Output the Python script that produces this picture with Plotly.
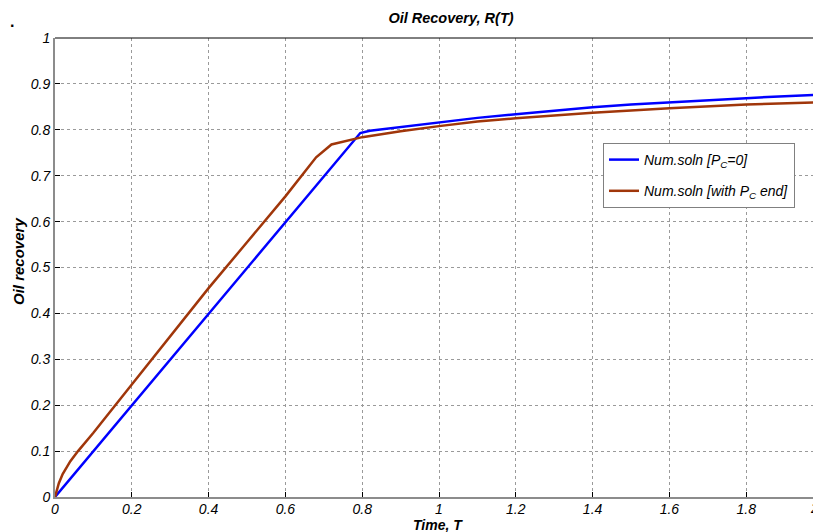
import plotly.graph_objects as go

# values
t_blue = [0, 0.795, 0.82, 0.9, 1.0, 1.1, 1.2, 1.3, 1.4, 1.5, 1.6, 1.7, 1.8, 1.9, 2.0]
r_blue = [0, 0.793, 0.798, 0.806, 0.815, 0.826, 0.834, 0.842, 0.849, 0.855, 0.860, 0.865, 0.869, 0.873, 0.877]

t_brown = [0, 0.01, 0.02, 0.04, 0.06, 0.1, 0.2, 0.3, 0.4, 0.5, 0.6, 0.68, 0.72, 0.8, 0.9, 1.0,
           1.1, 1.2, 1.4, 1.6, 1.8, 2.0]
r_brown = [0, 0.03, 0.05, 0.078, 0.10, 0.14, 0.245, 0.35, 0.455, 0.555, 0.655, 0.74, 0.768, 0.784,
           0.797, 0.808, 0.818, 0.825, 0.837, 0.847, 0.855, 0.860]

x_ticks = [0, 0.2, 0.4, 0.6, 0.8, 1, 1.2, 1.4, 1.6, 1.8, 2]
y_ticks = [0, 0.1, 0.2, 0.3, 0.4, 0.5, 0.6, 0.7, 0.8, 0.9, 1]

FONT = "Liberation Sans, Arial, sans-serif"

fig = go.Figure()
fig.add_trace(go.Scatter(x=t_blue, y=r_blue, mode="lines", name="Num.soln [P<sub>C</sub>=0]",
                         legendgroup="a", line=dict(color="#0000FF", width=2.5)))
fig.add_trace(go.Scatter(x=t_brown, y=r_brown, mode="lines", name="Num.soln [with P<sub>C</sub> end]",
                         legendgroup="b", line=dict(color="#A0360A", width=2.5)))

axis_common = dict(showgrid=True, gridcolor="#9a9a9a", griddash="dot", gridwidth=1,
                   zeroline=False, showline=True, linecolor="#8c8c8c", linewidth=2,
                   ticks="inside", ticklen=5, tickcolor="#000", tickwidth=1, automargin=False,
                   tickfont=dict(family=FONT, size=14, color="#000", style="italic"))

# page body has an 8px margin, so the figure is 813x524 and sits at (8, 8)
fig.update_xaxes(range=[0, (821 - 55) / 384], tickvals=x_ticks, ticklabelstandoff=-2, **axis_common)
fig.update_yaxes(range=[0, 1], tickvals=y_ticks, **axis_common)

fig.update_layout(
    width=813, height=524,
    margin=dict(l=47, r=0, t=30, b=35, autoexpand=False),
    paper_bgcolor="white", plot_bgcolor="white",
    title=dict(text="Oil Recovery, R(T)", x=(451 - 55) / 766, xref="paper", xanchor="center",
               y=1 - 10 / 524, yanchor="middle",
               font=dict(family=FONT, size=14.5, color="#000", weight="bold", style="italic")),
    legend=dict(x=(603 - 55) / 766, y=(497 - 143) / 459, xanchor="left", yanchor="top",
                bgcolor="white", bordercolor="#808080", borderwidth=1,
                font=dict(family=FONT, size=14, color="#000", style="italic"),
                traceorder="grouped", tracegroupgap=10, itemwidth=30),
    showlegend=True,
    shapes=[dict(type="line", xref="paper", yref="paper", x0=0, x1=1, y0=1, y1=1,
                 line=dict(color="#000", width=1))],
    annotations=[
        dict(text="Oil recovery", textangle=-90, xref="paper", yref="paper",
             x=(18 - 55) / 766, y=(497 - 262) / 459, showarrow=False, xanchor="center", yanchor="middle",
             font=dict(family=FONT, size=15, color="#000", weight="bold", style="italic")),
        dict(text="Time, T", xref="paper", yref="paper", x=(438 - 55) / 766, y=-(525 - 497) / 459,
             showarrow=False, xanchor="center", yanchor="middle",
             font=dict(family=FONT, size=14, color="#000", weight="bold", style="italic")),
        dict(text="2", xref="paper", yref="paper", x=1, y=-(508 - 497) / 459, showarrow=False,
             xanchor="right", yanchor="middle",
             font=dict(family=FONT, size=14, color="#000", style="italic")),
        dict(text=".", xref="paper", yref="paper", x=(12 - 55) / 766, y=(497 - 22) / 459,
             showarrow=False, xanchor="center", yanchor="middle",
             font=dict(family=FONT, size=16, color="#000", weight="bold")),
    ],
)

fig.write_html("out.html")
